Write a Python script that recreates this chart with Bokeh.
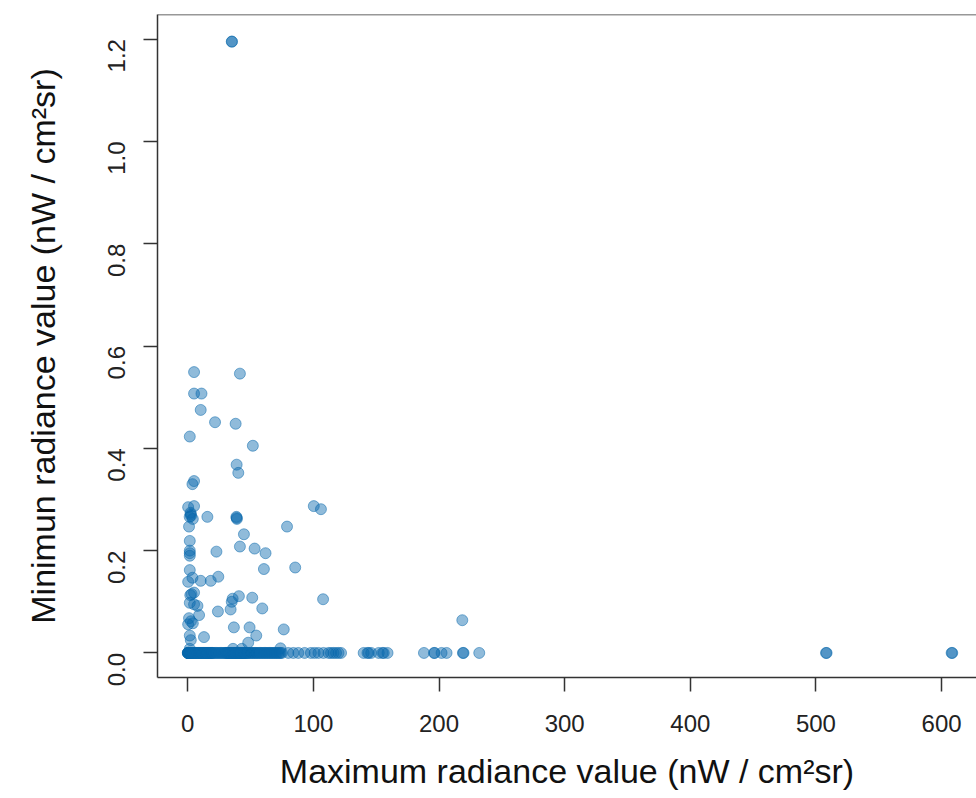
import math
from bokeh.plotting import figure
from bokeh.models import Range1d, FixedTicker, NumeralTickFormatter, Span, ColumnDataSource
from bokeh.embed import file_html
from bokeh.resources import INLINE

# Points whose minimum radiance is above zero (x = maximum, y = minimum)
max_rad_pos = [35, 35.2, 5, 41.5, 5, 10.9, 10.3, 21.7, 38.1, 1.6, 51.8, 38.9, 40.2, 5, 3.7,
               0.3, 5, 100.3, 106, 2.4, 2.6, 2.2, 1.5, 4, 15.6, 38.9, 39.1, 38.7, 1, 79,
               44.7, 1.6, 41.5, 53.2, 61.9, 22.8, 1.6, 1.6, 1.6, 60.6, 85.5, 1.6, 3.7, 10.3,
               18.3, 24.3, 0.3, 3, 2, 5, 1.6, 5, 40.7, 35.7, 35, 51.3, 107.7, 34.1, 24, 59.3,
               7.7, 9, 1, 2.5, 4, 0.3, 36.7, 49.2, 54.5, 76.4, 12.9, 1.6, 2.4, 48.1, 36, 43,
               1.6, 73.8, 218.5]
min_rad_pos = [1.195, 1.195, 0.549, 0.546, 0.507, 0.507, 0.475, 0.451, 0.448, 0.423, 0.405,
               0.368, 0.352, 0.336, 0.330, 0.285, 0.287, 0.287, 0.281, 0.271, 0.268, 0.274,
               0.266, 0.262, 0.266, 0.264, 0.262, 0.266, 0.247, 0.247, 0.232, 0.219, 0.208,
               0.204, 0.195, 0.198, 0.200, 0.195, 0.190, 0.164, 0.167, 0.162, 0.147, 0.141,
               0.141, 0.149, 0.139, 0.115, 0.113, 0.118, 0.098, 0.095, 0.111, 0.106, 0.100,
               0.108, 0.105, 0.085, 0.081, 0.087, 0.092, 0.074, 0.068, 0.062, 0.058, 0.056,
               0.050, 0.050, 0.034, 0.046, 0.031, 0.034, 0.025, 0.020, 0.008, 0.008, 0.008,
               0.009, 0.064]

# Points whose minimum radiance is zero (x = maximum)
max_rad_zero = [0, 0.2, 0.4, 0.6, 0.8, 1, 1.2, 1.5, 2, 2.5, 3, 3.5, 4, 4.5, 5, 6, 7, 8, 9, 10,
                11, 12, 13, 14, 15, 16, 17, 18, 19, 20, 22, 24, 26, 28, 30, 31, 32, 33, 34, 35,
                36, 37, 38, 39, 40, 41, 42, 43, 44, 45, 46, 47, 48, 50, 52, 54, 56, 58, 60, 62,
                64, 66, 68, 70, 72, 74, 80, 84, 88, 93, 98, 101, 104, 108, 112, 116, 120, 114,
                118, 122, 140, 143, 144, 146, 152, 155, 156, 159, 188, 196, 196.5, 202, 206,
                219, 219.5, 232, 508, 508.5, 608, 608.5,
                0.1, 0.3, 0.5, 0.7, 0.9, 1.1, 1.3, 1.7, 2.2, 2.7, 3.2, 3.7, 4.2, 5.5, 6.5, 7.5,
                8.5, 9.5, 10.5, 11.5, 12.5, 13.5, 14.5, 15.5, 16.5, 17.5, 18.5, 19.5, 21, 23,
                25, 27, 29, 30.5, 31.5, 32.5, 33.5, 34.5, 35.5, 36.5, 37.5, 38.5, 39.5, 40.5,
                41.5, 42.5, 43.5, 44.5, 45.5, 47.5, 49, 51, 53, 55, 57, 59, 61, 63, 65, 67,
                69, 71, 73, 75]
min_rad_zero = [0.0] * len(max_rad_zero)

x_ticks = [0, 100, 200, 300, 400, 500, 600]
y_ticks = [0.0, 0.2, 0.4, 0.6, 0.8, 1.0, 1.2]
x_title = "Maximum radiance value (nW / cm²sr)"
y_title = "Minimun radiance value (nW / cm²sr)"

src = ColumnDataSource(dict(x=max_rad_pos + max_rad_zero, y=min_rad_pos + min_rad_zero))

FONT = "Liberation Sans"
p = figure(width=976, height=798, output_backend="svg", toolbar_location=None,
           x_range=Range1d(-24.1, 627.8), y_range=Range1d(-0.048, 1.248),
           frame_width=819, frame_height=663,
           min_border_left=157, min_border_right=0, min_border_top=14, min_border_bottom=121)
p.background_fill_color = "white"
p.border_fill_color = "white"
p.outline_line_color = None
p.grid.visible = False

p.scatter("x", "y", source=src, size=11, fill_color="#0868AC", fill_alpha=0.45,
          line_color="#0868AC", line_alpha=0.5, line_width=1)

p.add_layout(Span(location=1.248, dimension="width", line_color="#333333", line_width=1.5))

for ax in (p.xaxis[0], p.yaxis[0]):
    ax.axis_line_color = "#333333"
    ax.axis_line_width = 1.5
    ax.major_tick_line_color = "#333333"
    ax.major_tick_line_width = 1.5
    ax.major_tick_out = 14
    ax.major_tick_in = 0
    ax.minor_tick_line_color = None
    ax.major_label_text_font = FONT
    ax.major_label_text_font_size = "24px"
    ax.major_label_text_color = "#222222"
    ax.axis_label_text_font = FONT
    ax.axis_label_text_font_size = "34px"
    ax.axis_label_text_font_style = "normal"
    ax.axis_label_text_color = "#111111"

p.xaxis.ticker = FixedTicker(ticks=x_ticks)
p.yaxis.ticker = FixedTicker(ticks=y_ticks)
p.xaxis.formatter = NumeralTickFormatter(format="0")
p.yaxis.formatter = NumeralTickFormatter(format="0.0")
p.yaxis.major_label_orientation = math.pi / 2
p.xaxis.axis_label = x_title
p.yaxis.axis_label = y_title
p.xaxis.major_label_standoff = 23
p.yaxis.major_label_standoff = 27
p.xaxis.axis_label_standoff = 17
p.yaxis.axis_label_standoff = 35

open("out.html", "w").write(file_html(p, INLINE))
